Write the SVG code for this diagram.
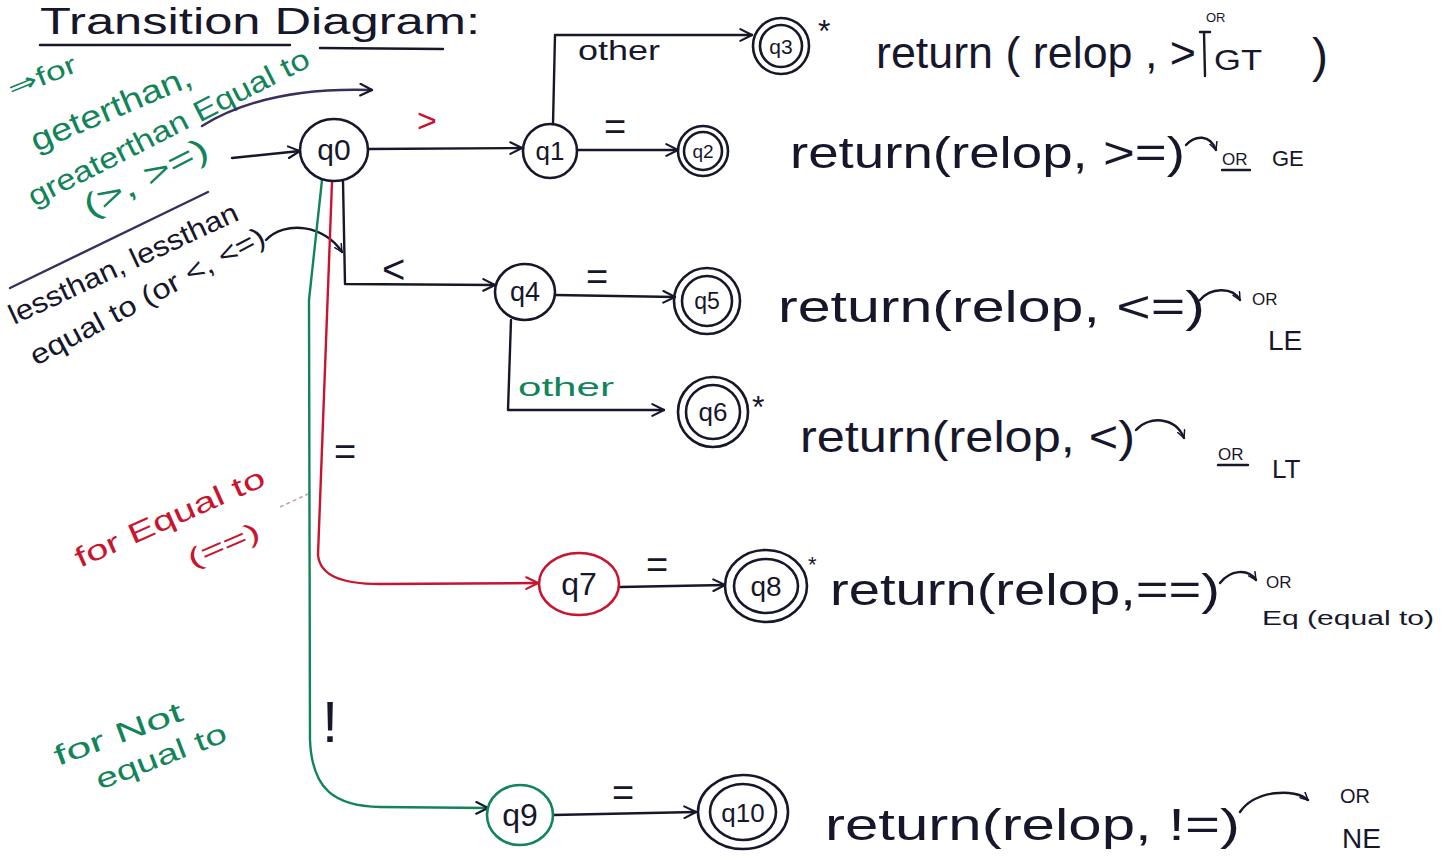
<svg xmlns="http://www.w3.org/2000/svg" width="1454" height="860" viewBox="0 0 1454 860">
  <style>
    .ink { stroke: #17172b; fill: none; stroke-width: 2.4; stroke-linecap: round; stroke-linejoin: round; }
    .red { stroke: #c8142e; }
    .green { stroke: #12845a; }
    .purple { stroke: #3b2d5e; }
    .node { fill: none; stroke: #17172b; stroke-width: 2.6; }
    .lbl { font-family: "Liberation Sans", Arial, sans-serif; font-size: 26px; fill: #17172b; text-anchor: middle; }
    .txt { font-family: "Liberation Sans", Arial, sans-serif; font-size: 44px; fill: #17172b; }
    .small { font-family: "Liberation Sans", Arial, sans-serif; font-size: 17px; fill: #17172b; }
    .edge { font-family: "Liberation Sans", Arial, sans-serif; font-size: 34px; fill: #17172b; }
    .note { font-family: "Liberation Sans", Arial, sans-serif; font-size: 28px; }
  </style>
  <defs>
    <marker id="arrow" viewBox="0 0 12 12" refX="11" refY="6" markerWidth="14" markerHeight="14" markerUnits="userSpaceOnUse" orient="auto">
      <path d="M1,1 L11,6 L1,11" fill="none" stroke="#17172b" stroke-width="1.8" stroke-linecap="round"/>
    </marker>
    <marker id="arrowRed" viewBox="0 0 12 12" refX="11" refY="6" markerWidth="14" markerHeight="14" markerUnits="userSpaceOnUse" orient="auto">
      <path d="M1,1 L11,6 L1,11" fill="none" stroke="#c8142e" stroke-width="1.8" stroke-linecap="round"/>
    </marker>
    <marker id="arrowSmall" viewBox="0 0 12 12" refX="11" refY="6" markerWidth="9" markerHeight="9" markerUnits="userSpaceOnUse" orient="auto">
      <path d="M1,1 L11,6 L1,11" fill="none" stroke="#17172b" stroke-width="2" stroke-linecap="round"/>
    </marker>
  </defs>

  <rect width="1454" height="860" fill="#ffffff"/>

  <!-- heading -->
  <g id="title">
    <text x="40" y="34" font-family="Liberation Sans, Arial, sans-serif" font-size="37" fill="#17172b" textLength="440" lengthAdjust="spacingAndGlyphs">Transition Diagram:</text>
    <path class="ink" d="M40,45 L290,45 M320,48 L443,49"/>
  </g>

  <!-- side notes -->
  <g id="notes">
    <g fill="#12845a" class="note">
      <text transform="translate(12,98) rotate(-22)" font-size="26" textLength="72" lengthAdjust="spacingAndGlyphs">⇒for</text>
      <text transform="translate(36,152) rotate(-23)" font-size="32" textLength="172" lengthAdjust="spacingAndGlyphs">geterthan,</text>
      <text transform="translate(34,207) rotate(-27)" font-size="29" textLength="312" lengthAdjust="spacingAndGlyphs">greaterthan Equal to</text>
      <text transform="translate(90,218) rotate(-27)" font-size="32" textLength="136" lengthAdjust="spacingAndGlyphs">(&gt;, &gt;=)</text>
    </g>
    <path class="ink purple" d="M202,126 C250,96 310,88 372,90" marker-end="url(#arrow)"/>
    <path class="ink purple" d="M10,288 L208,192"/>
    <g fill="#17172b" class="note">
      <text transform="translate(14,325) rotate(-25)" font-size="28" textLength="250" lengthAdjust="spacingAndGlyphs">lessthan, lessthan</text>
      <text transform="translate(36,366) rotate(-28)" font-size="28" textLength="262" lengthAdjust="spacingAndGlyphs">equal to (or &lt;, &lt;=)</text>
    </g>
    <path class="ink" d="M266,240 C285,220 325,225 342,252" marker-end="url(#arrowSmall)"/>
    <g fill="#c8142e" class="note">
      <text transform="translate(80,568) rotate(-24)" font-size="28" textLength="205" lengthAdjust="spacingAndGlyphs">for Equal to</text>
      <text transform="translate(192,568) rotate(-23)" font-size="26" textLength="76" lengthAdjust="spacingAndGlyphs">(==)</text>
    </g>
    <path d="M280,507 L308,494" stroke="#c0a0a8" stroke-width="1.5" fill="none" stroke-dasharray="4 3"/>
    <g fill="#12845a" class="note">
      <text transform="translate(58,766) rotate(-20)" font-size="28" textLength="135" lengthAdjust="spacingAndGlyphs">for Not</text>
      <text transform="translate(100,790) rotate(-21)" font-size="28" textLength="138" lengthAdjust="spacingAndGlyphs">equal to</text>
    </g>
  </g>

  <!-- connectors -->
  <g id="connectors">
    <path class="ink" d="M232,158 L300,151" marker-end="url(#arrow)"/>
    <path class="ink" d="M368,149 L522,148" marker-end="url(#arrow)"/>
    <path class="ink" d="M553,124 L555,35 L752,35" marker-end="url(#arrow)"/>
    <path class="ink" d="M577,150 L678,150" marker-end="url(#arrow)"/>
    <path class="ink" d="M343,181 L345,284 L495,285" marker-end="url(#arrow)"/>
    <path class="ink" d="M555,295 L675,297" marker-end="url(#arrow)"/>
    <path class="ink" d="M511,320 L508,410 L664,410" marker-end="url(#arrow)"/>
    <path class="ink red" d="M332,182 L318,555 C320,575 340,584 380,584 L538,583" marker-end="url(#arrowRed)"/>
    <path class="ink" d="M620,587 L725,585" marker-end="url(#arrow)"/>
    <path class="ink green" d="M322,180 L309,300 L310,740 C312,790 335,806 380,807 L488,808" marker-end="url(#arrow)"/>
    <path class="ink" d="M553,815 L696,812" marker-end="url(#arrow)"/>

    <!-- edge labels -->
    <text x="417" y="132" class="edge" style="fill:#c8142e">&gt;</text>
    <text x="578" y="60" class="edge" style="font-size:27px" textLength="82" lengthAdjust="spacingAndGlyphs">other</text>
    <text x="604" y="140" class="edge" style="font-size:38px">=</text>
    <text x="382" y="283" class="edge" style="font-size:40px">&lt;</text>
    <text x="586" y="290" class="edge" style="font-size:38px">=</text>
    <text x="518" y="396" class="edge" style="font-size:25px;fill:#12845a" textLength="96" lengthAdjust="spacingAndGlyphs">other</text>
    <text x="334" y="465" class="edge" style="font-size:38px">=</text>
    <text x="646" y="578" class="edge" style="font-size:38px">=</text>
    <text x="322" y="742" class="edge" style="font-size:58px">!</text>
    <text x="612" y="806" class="edge" style="font-size:38px">=</text>
  </g>

  <!-- states -->
  <g id="q0">
    <ellipse class="node" cx="334" cy="150" rx="34" ry="31"/>
    <text class="lbl" x="334" y="160" style="font-size:30px">q0</text>
  </g>
  <g id="q1">
    <circle class="node" cx="550" cy="151" r="27"/>
    <text class="lbl" x="550" y="160" style="font-size:26px">q1</text>
  </g>
  <g id="q2">
    <circle class="node" cx="703" cy="151" r="25"/>
    <circle class="node" cx="703" cy="151" r="19"/>
    <text class="lbl" x="703" y="158" style="font-size:19px">q2</text>
  </g>
  <g id="q3">
    <circle class="node" cx="781" cy="46" r="28"/>
    <circle class="node" cx="781" cy="46" r="21"/>
    <text class="lbl" x="781" y="54" style="font-size:21px">q3</text>
    <text class="edge" x="818" y="42" style="font-size:32px">*</text>
  </g>
  <g id="q4">
    <ellipse class="node" cx="525" cy="292" rx="30" ry="28"/>
    <text class="lbl" x="525" y="301" style="font-size:27px">q4</text>
  </g>
  <g id="q5">
    <circle class="node" cx="707" cy="301" r="33"/>
    <circle class="node" cx="707" cy="301" r="25"/>
    <text class="lbl" x="707" y="309" style="font-size:23px">q5</text>
  </g>
  <g id="q6">
    <circle class="node" cx="713" cy="412" r="35"/>
    <circle class="node" cx="713" cy="412" r="27"/>
    <text class="lbl" x="713" y="421" style="font-size:26px">q6</text>
    <text class="edge" x="752" y="418" style="font-size:32px">*</text>
  </g>
  <g id="q7">
    <ellipse class="node" cx="579" cy="584" rx="40" ry="31" style="stroke:#c8142e"/>
    <text class="lbl" x="579" y="595" style="font-size:32px">q7</text>
  </g>
  <g id="q8">
    <ellipse class="node" cx="766" cy="586" rx="41" ry="36"/>
    <ellipse class="node" cx="766" cy="586" rx="32" ry="27"/>
    <text class="lbl" x="766" y="596" style="font-size:28px">q8</text>
    <text class="edge" x="808" y="572" style="font-size:22px">*</text>
  </g>
  <g id="q9">
    <ellipse class="node" cx="520" cy="815" rx="33" ry="30" style="stroke:#12845a"/>
    <text class="lbl" x="520" y="826" style="font-size:32px">q9</text>
  </g>
  <g id="q10">
    <ellipse class="node" cx="743" cy="812" rx="45" ry="37"/>
    <ellipse class="node" cx="743" cy="812" rx="33" ry="28"/>
    <text class="lbl" x="743" y="822" style="font-size:26px">q10</text>
  </g>

  <!-- token returned by each accepting state -->
  <g id="results">
    <text class="txt" x="876" y="68" textLength="320" lengthAdjust="spacingAndGlyphs">return ( relop , &gt;</text>
    <path class="ink" d="M1204,32 L1205,76 M1200,32 L1210,32"/>
    <text class="small" x="1206" y="22" style="font-size:13px">OR</text>
    <text class="txt" x="1214" y="70" style="font-size:30px" textLength="48" lengthAdjust="spacingAndGlyphs">GT</text>
    <text class="txt" x="1312" y="72" style="font-size:48px">)</text>

    <text class="txt" x="790" y="168" textLength="395" lengthAdjust="spacingAndGlyphs">return(relop, &gt;=)</text>
    <path class="ink" d="M1186,145 C1195,135 1210,134 1216,150" marker-end="url(#arrowSmall)"/>
    <text class="small" x="1222" y="165">OR</text>
    <path class="ink" d="M1222,170 L1250,170"/>
    <text class="small" x="1272" y="166" style="font-size:22px">GE</text>

    <text class="txt" x="778" y="322" textLength="427" lengthAdjust="spacingAndGlyphs">return(relop, &lt;=)</text>
    <path class="ink" d="M1200,300 C1210,288 1232,286 1240,300" marker-end="url(#arrowSmall)"/>
    <text class="small" x="1252" y="305">OR</text>
    <text class="small" x="1268" y="350" style="font-size:28px">LE</text>

    <text class="txt" x="800" y="452" textLength="335" lengthAdjust="spacingAndGlyphs">return(relop, &lt;)</text>
    <path class="ink" d="M1136,430 C1148,416 1175,416 1184,438" marker-end="url(#arrowSmall)"/>
    <text class="small" x="1218" y="460">OR</text>
    <path class="ink" d="M1218,465 L1248,465"/>
    <text class="small" x="1272" y="478" style="font-size:26px">LT</text>

    <text class="txt" x="830" y="605" textLength="390" lengthAdjust="spacingAndGlyphs">return(relop,==)</text>
    <path class="ink" d="M1220,583 C1230,570 1248,568 1256,580" marker-end="url(#arrowSmall)"/>
    <text class="small" x="1266" y="588">OR</text>
    <text class="small" x="1262" y="625" style="font-size:20px" textLength="172" lengthAdjust="spacingAndGlyphs">Eq (equal to)</text>

    <text class="txt" x="825" y="840" textLength="415" lengthAdjust="spacingAndGlyphs">return(relop, !=)</text>
    <path class="ink" d="M1240,812 C1255,790 1295,788 1308,800" marker-end="url(#arrowSmall)"/>
    <text class="small" x="1340" y="803" style="font-size:20px">OR</text>
    <text class="small" x="1342" y="848" style="font-size:28px">NE</text>
  </g>
</svg>
